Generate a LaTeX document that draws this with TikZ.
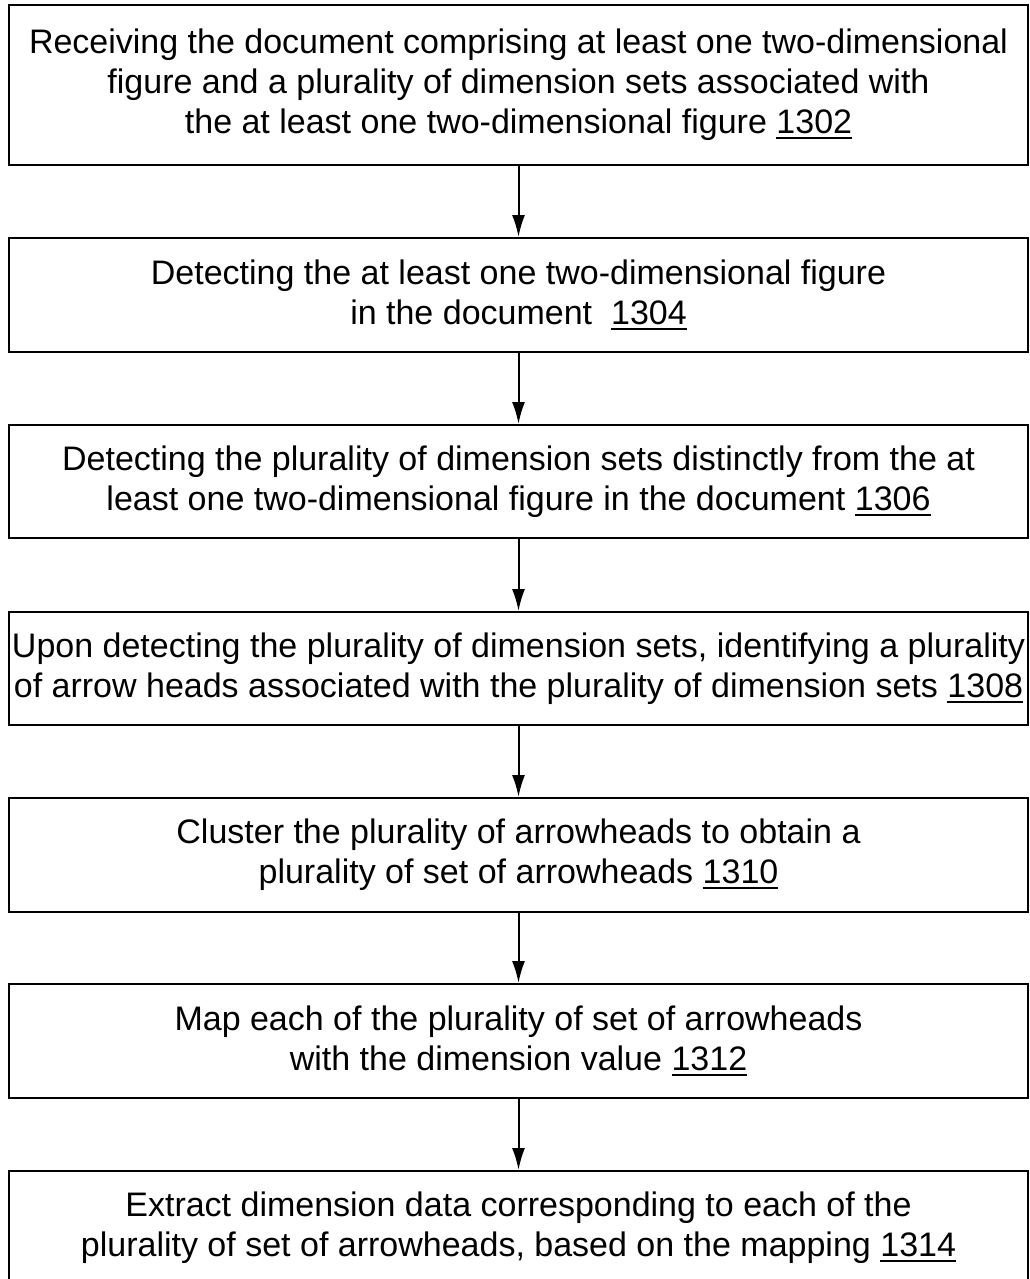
\documentclass[tikz,border=0pt]{standalone}
\usepackage{fontspec}
\setmainfont{Liberation Sans}
\usetikzlibrary{arrows.meta}

% reference numerals, underlined
\newcommand{\refnum}[1]{\setbox0=\hbox{#1}\rlap{\rule[-5.5pt]{\wd0}{2.2pt}}\box0}

\begin{document}
\begin{tikzpicture}[x=1pt,y=-1pt,
  stepbox/.style={draw, line width=2pt, minimum width=1019pt, inner sep=0pt,
    align=center, font=\fontsize{34pt}{40pt}\selectfont},
  flow/.style={line width=2pt, -{Latex[length=22pt,width=13pt]}}]
\useasboundingbox (0,0) rectangle (1030,1279);

\node[stepbox, minimum height=160pt] (s1) at (518.5,85)
  {Receiving the document comprising at least one two-dimensional\\
   figure and a plurality of dimension sets associated with\\
   the at least one two-dimensional figure \refnum{1302}};
\node[stepbox, minimum height=114pt] (s2) at (518.5,295)
  {Detecting the at least one two-dimensional figure\\
   in the document~ \refnum{1304}};
\node[stepbox, minimum height=113pt] (s3) at (518.5,481.5)
  {Detecting the plurality of dimension sets distinctly from the at\\
   least one two-dimensional figure in the document \refnum{1306}};
\node[stepbox, minimum height=113pt] (s4) at (518.5,668.5)
  {Upon detecting the plurality of dimension sets, identifying a plurality\\
   of arrow heads associated with the plurality of dimension sets \refnum{1308}};
\node[stepbox, minimum height=114pt] (s5) at (518.5,855)
  {Cluster the plurality of arrowheads to obtain a\\
   plurality of set of arrowheads \refnum{1310}};
\node[stepbox, minimum height=114pt] (s6) at (518.5,1041)
  {Map each of the plurality of set of arrowheads\\
   with the dimension value \refnum{1312}};
\node[stepbox, minimum height=114pt] (s7) at (518.5,1228)
  {Extract dimension data corresponding to each of the\\
   plurality of set of arrowheads, based on the mapping \refnum{1314}};

\draw[flow] (s1) -- (s2);
\draw[flow] (s2) -- (s3);
\draw[flow] (s3) -- (s4);
\draw[flow] (s4) -- (s5);
\draw[flow] (s5) -- (s6);
\draw[flow] (s6) -- (s7);
\end{tikzpicture}
\end{document}
